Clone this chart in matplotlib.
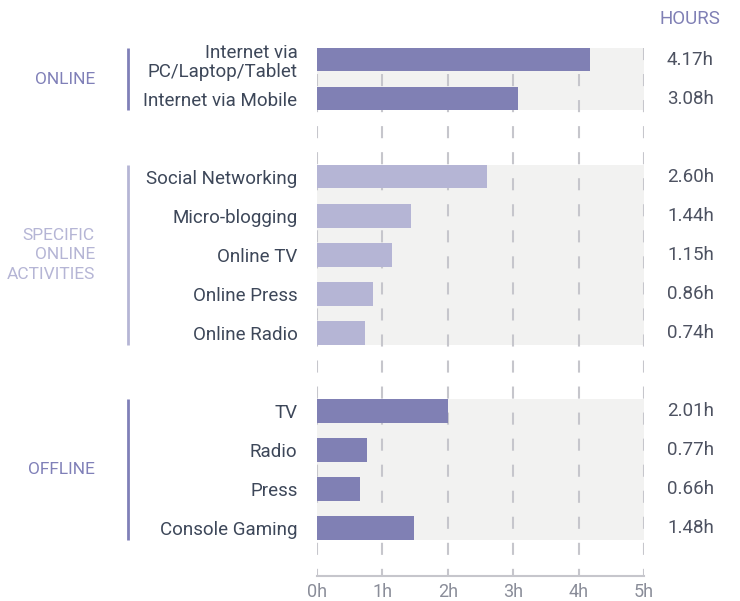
import matplotlib
matplotlib.use("Agg")
import matplotlib.pyplot as plt
from matplotlib.transforms import blended_transform_factory

plt.rcParams['font.family'] = ['Roboto', 'DejaVu Sans']

# data
groups = ['ONLINE', 'SPECIFIC\nONLINE\nACTIVITIES', 'OFFLINE']
group_items = [
    ['Internet via\nPC/Laptop/Tablet', 'Internet via Mobile'],
    ['Social Networking', 'Micro-blogging', 'Online TV', 'Online Press', 'Online Radio'],
    ['TV', 'Radio', 'Press', 'Console Gaming'],
]
group_hours = [
    [4.17, 3.08],
    [2.60, 1.44, 1.15, 0.86, 0.74],
    [2.01, 0.77, 0.66, 1.48],
]
hour_ticks = [0, 1, 2, 3, 4, 5]
hour_labels = ['0h', '1h', '2h', '3h', '4h', '5h']

dark = '#8080b4'
light = '#b5b5d5'
group_colors = [dark, light, dark]
label_colors = ['#8080b8', '#b5b5d5', '#8080b8']
text_col = '#3d4759'
grey_line = '#c6c6cc'

fig = plt.figure(figsize=(7.4, 6.01), dpi=100)
ax = fig.add_axes([317 / 740, 25 / 601, 327 / 740, 528 / 601])

bar_h = 0.6
ypos, labels = [], []
row = 0
trans = blended_transform_factory(ax.transAxes, ax.transData)
for gi, (name, items, vals) in enumerate(zip(groups, group_items, group_hours)):
    rows = list(range(row, row + len(items)))
    top, bottom = rows[0] - bar_h / 2, rows[-1] + bar_h / 2
    # grey background band
    ax.axhspan(top, bottom, color='#f2f2f1', zorder=0, lw=0)
    ax.barh(rows, vals, height=bar_h, color=group_colors[gi], zorder=3)
    for r, v in zip(rows, vals):
        ax.text(1.214, r, f'{v:.2f}h', transform=trans, ha='right', va='center',
                fontsize=13.5, color='#4d5261')
    # bracket and group name
    ax.plot([-0.578, -0.578], [top, bottom], transform=trans, color=label_colors[gi],
            lw=2, clip_on=False, solid_capstyle='butt')
    ax.text(-0.679, (rows[0] + rows[-1]) / 2, name, transform=trans, ha='right',
            va='center', fontsize=12.5, color=label_colors[gi], linespacing=1.35)
    ypos += rows
    labels += items
    row += len(items) + 1

ax.set_xlim(0, 5)
ax.set_ylim(row - 1 + 0.23, -bar_h / 2)

# dashed hour gridlines
ax.vlines(hour_ticks, -bar_h / 2, row - 1 + 0.23, colors=grey_line, lw=1.5,
          linestyles=[(0, (5.8, 6.7))], zorder=1)

ax.set_yticks(ypos)
ax.set_yticklabels(labels, fontsize=13.5, color=text_col, linespacing=1.1)
ax.set_xticks(hour_ticks)
ax.set_xticklabels(hour_labels, fontsize=13, color='#8a8d99')
ax.tick_params(axis='y', length=0, pad=14)
ax.tick_params(axis='x', length=0, pad=5)

for s in ['top', 'right', 'left']:
    ax.spines[s].set_visible(False)
ax.spines['bottom'].set_color(grey_line)
ax.spines['bottom'].set_linewidth(1.5)

fig.text(720 / 740, 1 - 19 / 601, 'HOURS', ha='right', va='center',
         fontsize=13.5, color='#8080b5')

fig.savefig('out.png', dpi=100)
